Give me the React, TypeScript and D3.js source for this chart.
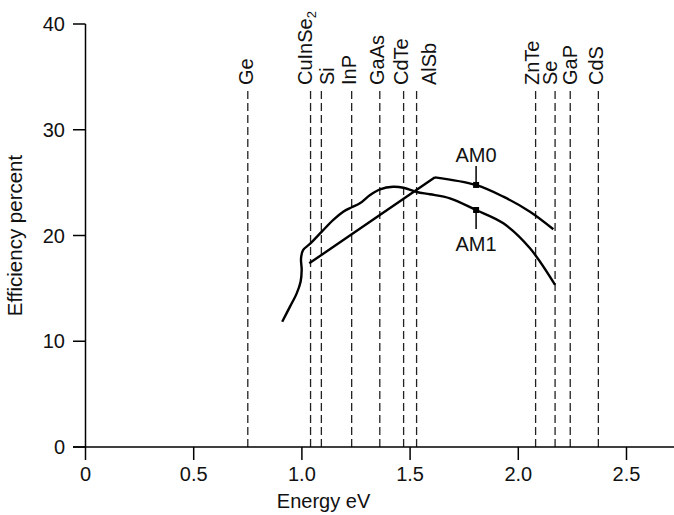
import React from "react";
import * as d3 from "d3";

const xTicks = [0, 0.5, 1.0, 1.5, 2.0, 2.5];
const xTickLabels = ["0", "0.5", "1.0", "1.5", "2.0", "2.5"];
const yTicks = [0, 10, 20, 30, 40];

const gapNames = ["Ge", "CuInSe2", "Si", "InP", "GaAs", "CdTe", "AlSb", "ZnTe", "Se", "GaP", "CdS"];
const gapEnergies = [0.75, 1.04, 1.09, 1.23, 1.36, 1.47, 1.53, 2.08, 2.17, 2.24, 2.37];
// horizontal nudges (px) of the rotated labels relative to their dashed lines
const gapLabelNudge = [-2, -6, 5.5, -2.7, -3, -2.3, 12.5, -3.7, -5, 0, -2.7];

const am1X = [0.909, 0.945, 0.976, 0.994, 0.999, 0.996, 1.006, 1.037, 1.092, 1.145, 1.191, 1.23, 1.268, 1.315, 1.361, 1.422, 1.469, 1.531, 1.592, 1.684, 1.805, 1.931, 2.054, 2.17];
const am1Y = [11.85, 13.27, 14.53, 15.63, 16.74, 17.84, 18.63, 19.2, 20.36, 21.47, 22.25, 22.67, 23.04, 23.83, 24.37, 24.61, 24.52, 24.11, 23.9, 23.52, 22.41, 21.15, 18.79, 15.32];

const am0X = [1.034, 1.615, 1.803, 1.931, 2.054, 2.162];
const am0Y = [17.37, 25.5, 24.78, 23.67, 22.25, 20.59];

const markerX = 1.805;
const am0MarkerY = 24.78;
const am1MarkerY = 22.41;

const W = 674;
const H = 515;
const FONT = "'Liberation Sans', Arial, Helvetica, sans-serif";
const FS = 20;

export default function App() {
  const x = d3.scaleLinear().domain([0, 2.72]).range([85.5, 674.1]);
  const y = d3.scaleLinear().domain([0, 40]).range([447, 24]);

  const am1 = am1X.map((v, i) => [v, am1Y[i]] as [number, number]);
  const am0 = am0X.map((v, i) => [v, am0Y[i]] as [number, number]);

  const curved = d3
    .line<[number, number]>()
    .x((d) => x(d[0]))
    .y((d) => y(d[1]))
    .curve(d3.curveCatmullRom.alpha(0.5));
  const straight = d3
    .line<[number, number]>()
    .x((d) => x(d[0]))
    .y((d) => y(d[1]));

  const am0Path = (straight(am0.slice(0, 2)) || "") + (curved(am0.slice(1)) || "");

  const mx = x(markerX);
  const m0y = y(am0MarkerY);
  const m1y = y(am1MarkerY);

  return (
    <svg
      width={W}
      height={H}
      style={{ position: "absolute", left: 0, top: 0, background: "#fff" }}
      fontFamily={FONT}
    >
      {/* gap lines */}
      {gapEnergies.map((e, i) => (
        <g key={gapNames[i]}>
          <line
            x1={x(e)}
            x2={x(e)}
            y1={91}
            y2={y(0)}
            stroke="#222"
            strokeWidth={1.3}
            strokeDasharray="8,4"
          />
          <text
            transform={`translate(${x(e) + gapLabelNudge[i] + 7},85) rotate(-90)`}
            fontSize={FS}
            fill="#111"
          >
            {gapNames[i] === "CuInSe2" ? (
              <>
                CuInSe
                <tspan fontSize={13} dy={4}>
                  2
                </tspan>
              </>
            ) : (
              gapNames[i]
            )}
          </text>
        </g>
      ))}

      {/* axes */}
      <line x1={73} x2={674} y1={y(0)} y2={y(0)} stroke="#000" strokeWidth={1.5} />
      <line x1={x(0)} x2={x(0)} y1={y(40)} y2={y(0)} stroke="#000" strokeWidth={1.5} />
      {yTicks.map((t) => (
        <g key={"y" + t}>
          <line x1={73} x2={x(0)} y1={y(t)} y2={y(t)} stroke="#000" strokeWidth={1.5} />
          <text x={65} y={y(t)} dy="0.35em" textAnchor="end" fontSize={FS} fill="#111">
            {t}
          </text>
        </g>
      ))}
      {xTicks.map((t, i) => (
        <g key={"x" + t}>
          <line x1={x(t)} x2={x(t)} y1={y(0)} y2={y(0) + 13} stroke="#000" strokeWidth={1.5} />
          <text x={x(t)} y={481} textAnchor="middle" fontSize={FS} fill="#111">
            {xTickLabels[i]}
          </text>
        </g>
      ))}
      <text x={x(1.1)} y={508} textAnchor="middle" fontSize={FS} fill="#111">
        Energy eV
      </text>
      <text
        transform={`translate(21.5,${y(20)}) rotate(-90)`}
        textAnchor="middle"
        fontSize={20.5}
        fill="#111"
      >
        Efficiency percent
      </text>

      {/* curves */}
      <path d={curved(am1) || ""} fill="none" stroke="#000" strokeWidth={2.4} />
      <path d={am0Path} fill="none" stroke="#000" strokeWidth={2.4} strokeLinejoin="miter" />

      {/* markers and labels */}
      <line x1={mx} x2={mx} y1={m0y} y2={166} stroke="#000" strokeWidth={1.5} />
      <rect x={mx - 3} y={m0y - 3} width={6} height={6} fill="#000" />
      <text x={mx} y={162} textAnchor="middle" fontSize={FS} fill="#111">
        AM0
      </text>
      <line x1={mx} x2={mx} y1={m1y} y2={229} stroke="#000" strokeWidth={1.5} />
      <rect x={mx - 3} y={m1y - 3} width={6} height={6} fill="#000" />
      <text x={mx} y={251} textAnchor="middle" fontSize={FS} fill="#111">
        AM1
      </text>
    </svg>
  );
}
